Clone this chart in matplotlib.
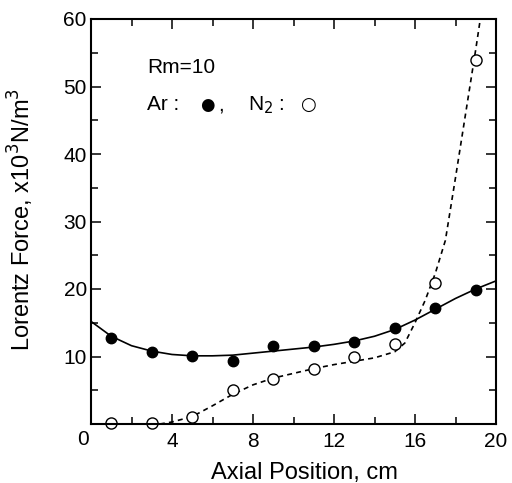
import matplotlib
matplotlib.use('Agg')
import matplotlib.pyplot as plt

plt.rcParams['font.family'] = ['Liberation Sans', 'DejaVu Sans']

# measured points
x_pts = [1, 3, 5, 7, 9, 11, 13, 15, 17, 19]
ar = [12.8, 10.7, 10.1, 9.3, 11.5, 11.6, 12.1, 14.2, 17.2, 19.9]
n2 = [0.1, 0.1, 1.0, 5.1, 6.6, 8.2, 10.0, 11.9, 20.9, 54.0]

# fitted curves
ar_fit_x = [0, 1, 2, 3, 4, 5, 6, 7, 8, 9, 10, 11, 12, 13, 14, 15, 16, 17, 18, 19, 20]
ar_fit_y = [15.2, 13.0, 11.6, 10.8, 10.3, 10.1, 10.1, 10.2, 10.5, 10.8, 11.1, 11.4, 11.8, 12.3, 13.0, 14.0, 15.4, 17.0, 18.6, 20.0, 21.2]
n2_fit_x = [3.4, 4, 5, 6, 7, 8, 9, 10, 11, 12, 13, 14, 15, 15.5, 16, 16.5, 17, 17.5, 18, 18.5, 19, 19.25]
n2_fit_y = [0.0, 0.3, 1.1, 2.7, 4.4, 5.8, 6.8, 7.5, 8.2, 8.8, 9.3, 9.8, 10.7, 12.0, 15.0, 18.3, 22.3, 27.2, 36.5, 46.0, 55.5, 60.5]

fig = plt.figure(figsize=(5.12, 4.83), dpi=100)
ax = fig.add_axes([91/512, 1 - 424/483, 405/512, 405/483])

ax.plot(ar_fit_x, ar_fit_y, color='black', lw=1.2)
ax.plot(n2_fit_x, n2_fit_y, color='black', lw=1.2, ls=(0, (3, 2.5)))
ax.plot(x_pts, ar, 'o', color='black', ms=7.5, clip_on=False)
ax.plot(x_pts, n2, 'o', mfc='white', mec='black', mew=1.0, ms=8, clip_on=False)

ax.set_xlim(0, 20)
ax.set_ylim(0, 60)
ax.set_xticks([4, 8, 12, 16, 20])
ax.set_xticks([2, 6, 10, 14, 18], minor=True)
ax.set_yticks([10, 20, 30, 40, 50, 60])
ax.set_yticks([5, 15, 25, 35, 45, 55], minor=True)
ax.tick_params(which='both', direction='in', top=True, right=True, width=1.1, labelsize=15)
ax.tick_params(which='major', length=7)
ax.tick_params(which='minor', length=5)
ax.tick_params(axis='x', pad=6)
ax.tick_params(axis='y', pad=3)
for s in ax.spines.values():
    s.set_linewidth(1.5)
ax.annotate('0', xy=(0, 0), xytext=(-6, -11.5), textcoords='offset points',
            ha='center', va='center', fontsize=15)

# key text
ax.text(2.77, 52.8, 'Rm=10', fontsize=15, va='center')
ax.text(2.77, 47.3, 'Ar :', fontsize=15, va='center')
ax.text(5.73, 47.3, '\u25cf', fontsize=12, va='center', ha='center', family='DejaVu Sans')
ax.text(6.3, 47.3, ',', fontsize=15, va='center')
ax.text(7.75, 47.3, 'N$_2$ :', fontsize=15, va='center')
ax.text(10.7, 47.3, '\u25cb', fontsize=13, va='center', ha='center', family='DejaVu Sans')

ax.set_xlabel('Axial Position, cm', fontsize=17)
ax.set_ylabel('Lorentz Force, x10$^3$N/m$^3$', fontsize=17)
ax.xaxis.set_label_coords(0.526, -0.095)
ax.yaxis.set_label_coords(-0.135, 0.504)

fig.savefig('out.png', dpi=100)
